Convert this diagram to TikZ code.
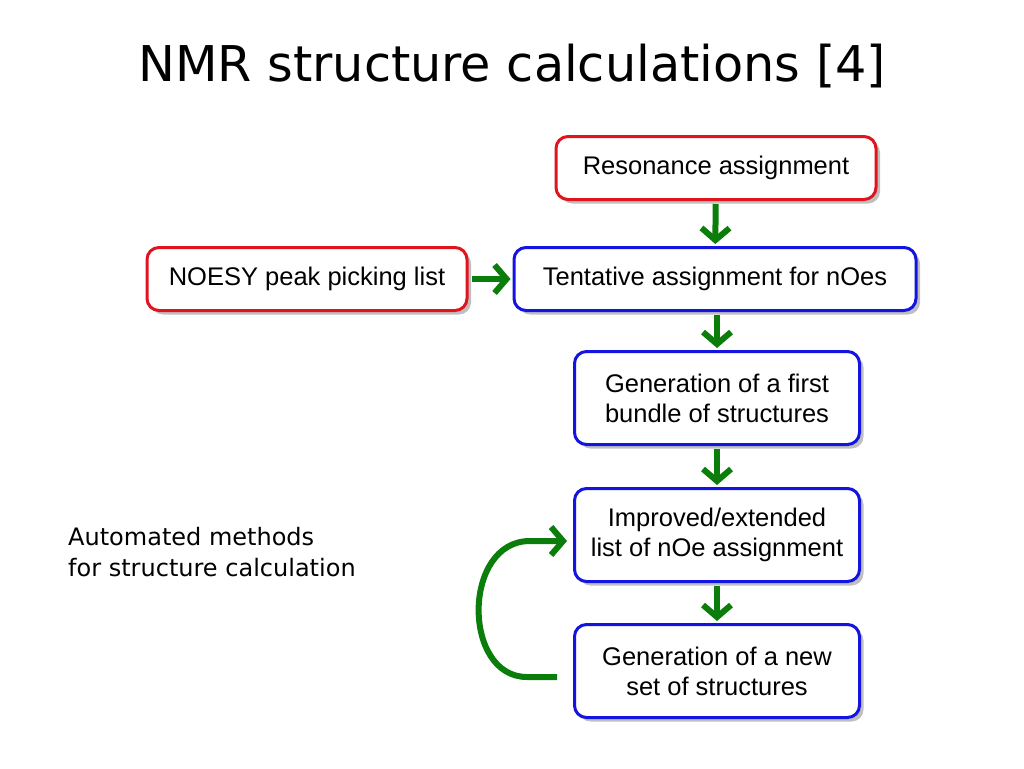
\documentclass[tikz,border=0pt]{standalone}
\usepackage{fontspec}
\setmainfont{Liberation Sans}
\newfontfamily\titlefont{DejaVu Sans}
\usetikzlibrary{arrows.meta,shadows}
\definecolor{boxred}{RGB}{225,20,30}
\definecolor{boxblue}{RGB}{20,20,225}
\definecolor{arrgreen}{RGB}{10,125,10}
\tikzset{
  box/.style={draw, line width=3pt, rounded corners=12pt, fill=white,
    align=center, inner sep=0pt, font=\fontsize{25.5}{30}\selectfont,
    drop shadow={shadow xshift=4pt, shadow yshift=-4pt, opacity=0.5}},
  redbox/.style={box, draw=boxred},
  bluebox/.style={box, draw=boxblue},
  flow/.style={draw=arrgreen, line width=6pt,
    -{Straight Barb[length=12pt,width=28pt,line width=6pt]}},
}
\begin{document}
\begin{tikzpicture}[x=1pt,y=-1pt]
\useasboundingbox (0,0) rectangle (1024,768);
\node[font=\titlefont\fontsize{49.3}{54}\selectfont] (title) at (512,66) {NMR structure calculations [4]};
\node[redbox, minimum width=320pt, minimum height=63pt] (res) at (716,168) {Resonance assignment};
\node[redbox, minimum width=320pt, minimum height=63pt] (noesy) at (307,279) {NOESY peak picking list};
\node[bluebox, minimum width=402pt, minimum height=63pt] (tent) at (715,279) {Tentative assignment for nOes};
\node[bluebox, minimum width=285pt, minimum height=93pt] (gen1) at (717,398) {Generation of a first\\ bundle of structures};
\node[bluebox, minimum width=285pt, minimum height=93pt] (impr) at (717,535) {Improved/extended\\ list of nOe assignment};
\node[bluebox, minimum width=285pt, minimum height=93pt] (gen2) at (717,671) {Generation of a new\\ set of structures};
\node[anchor=base west, align=left, inner sep=0pt, font=\titlefont\fontsize{24}{31}\selectfont] (auto) at (68,576) {Automated methods\\for structure calculation};
\draw[flow, shorten <=3pt, shorten >=2pt] (res) -- (tent);
\draw[flow, shorten <=3pt, shorten >=2pt] (noesy) -- (tent);
\draw[flow, shorten <=3pt, shorten >=2pt] (tent.south -| gen1.north) -- (gen1);
\draw[flow, shorten <=3pt, shorten >=2pt] (gen1) -- (impr);
\draw[flow, shorten <=3pt, shorten >=2pt] (impr) -- (gen2);
\coordinate (ls) at ([xshift=-16pt,yshift=-6pt]gen2.west);
\coordinate (le) at ([xshift=-6pt,yshift=-6pt]impr.west);
\draw[flow] (ls) -- ++(-30,0) .. controls (462,677) and (462,541) .. (530,541) -- (le);
\end{tikzpicture}
\end{document}
